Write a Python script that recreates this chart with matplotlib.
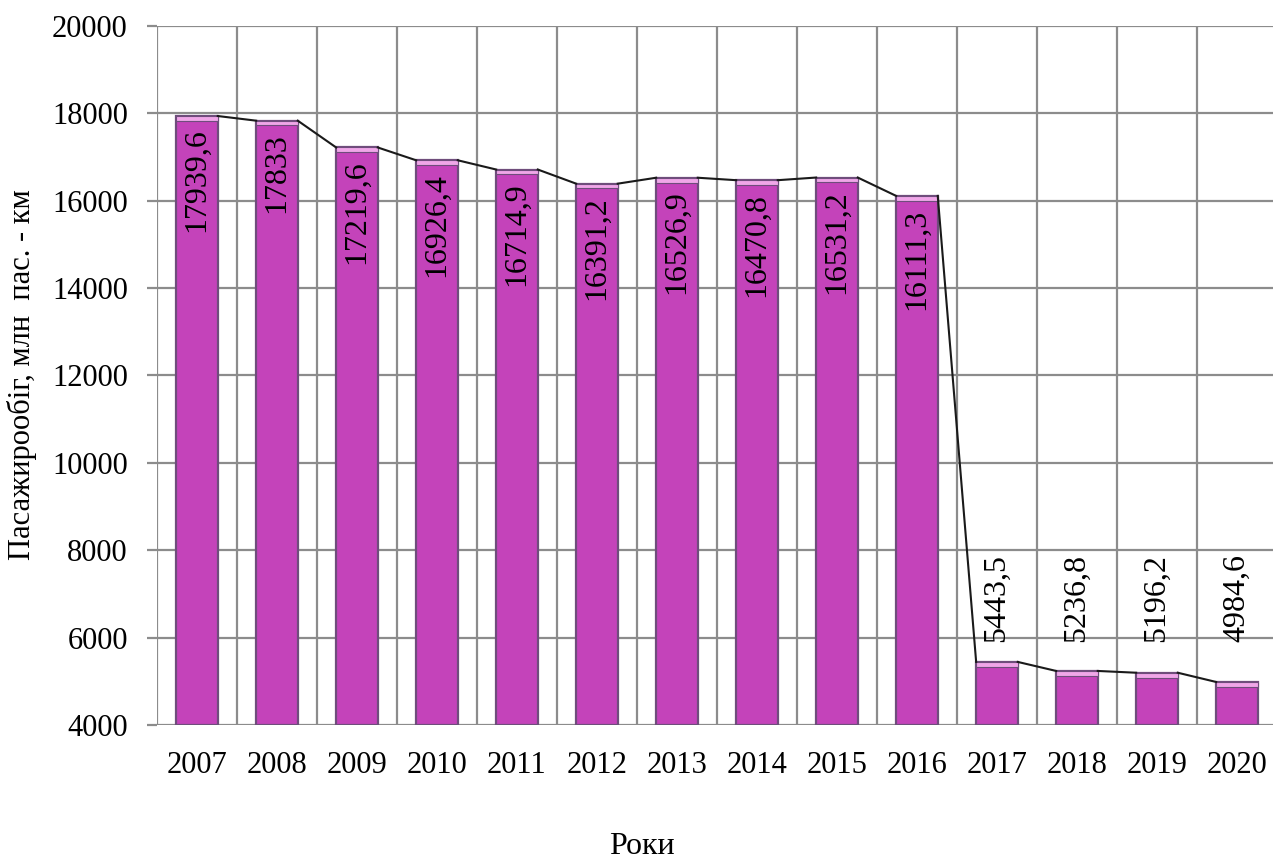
import matplotlib
matplotlib.use("Agg")
import matplotlib.pyplot as plt

plt.rcParams['font.family'] = ['Liberation Serif', 'DejaVu Serif']

years = ['2007', '2008', '2009', '2010', '2011', '2012', '2013',
         '2014', '2015', '2016', '2017', '2018', '2019', '2020']
values = [17939.6, 17833, 17219.6, 16926.4, 16714.9, 16391.2, 16526.9,
          16470.8, 16531.2, 16111.3, 5443.5, 5236.8, 5196.2, 4984.6]
yticks = [4000, 6000, 8000, 10000, 12000, 14000, 16000, 18000, 20000]

bar_w = 0.52
body = '#c443ba'
edge = '#6f4d7c'
cap = '#f0a6e8'
grid = '#8c8c8c'

fig = plt.figure(figsize=(12.73, 8.64), dpi=100)
ax = fig.add_axes([0.1233, 0.1609, 0.8798, 0.809])

x = list(range(len(years)))

# grid: horizontal at ticks, vertical between categories
for t in yticks:
    ax.axhline(t, color=grid, lw=1.6, zorder=0)
for i in range(len(years) + 1):
    ax.axvline(i - 0.5, color=grid, lw=1.6, zorder=0)

ax.bar(x, [v - 4000 for v in values], bottom=4000, width=bar_w,
       color=body, edgecolor=edge, linewidth=1.6, zorder=2)
# lighter top face of each bar
cap_h = 110
ax.bar(x, [cap_h] * len(x), bottom=[v - cap_h for v in values], width=bar_w,
       color=cap, edgecolor=edge, linewidth=0.8, zorder=3)

# series lines from one bar's top-right corner to the next bar's top-left
for i in range(len(values) - 1):
    ax.plot([i + bar_w / 2, i + 1 - bar_w / 2], [values[i], values[i + 1]],
            color='#1a1a1a', lw=1.5, zorder=4)

for i, v in enumerate(values):
    s = ('%g' % v).replace('.', ',')
    if v > 10000:
        ax.annotate(s, (i, v), xytext=(0, -9), textcoords='offset points',
                    rotation=90, ha='center', va='top', fontsize=23, zorder=5)
    else:
        ax.text(i, 5900, s, rotation=90, ha='center', va='bottom',
                fontsize=23, zorder=5)

ax.set_xlim(-0.5, len(years) - 0.5)
ax.set_ylim(4000, 20000)
ax.set_yticks(yticks)
ax.set_yticklabels([str(t) for t in yticks], fontsize=22)
ax.set_xticks(x)
ax.set_xticklabels(years, fontsize=22)
ax.tick_params(axis='y', length=7, width=1.6, color=grid, pad=14)
ax.tick_params(axis='x', length=0, pad=19)
for sp in ax.spines.values():
    sp.set_visible(False)

fig.text(22 / 1273, 1 - 375 / 864, 'Пасажирообіг, млн  пас. - км', rotation=90,
         ha='center', va='center', fontsize=22)
fig.text(642 / 1273, 1 - 847 / 864, 'Роки', ha='center', va='center', fontsize=23)

fig.savefig('out.png', dpi=100)
